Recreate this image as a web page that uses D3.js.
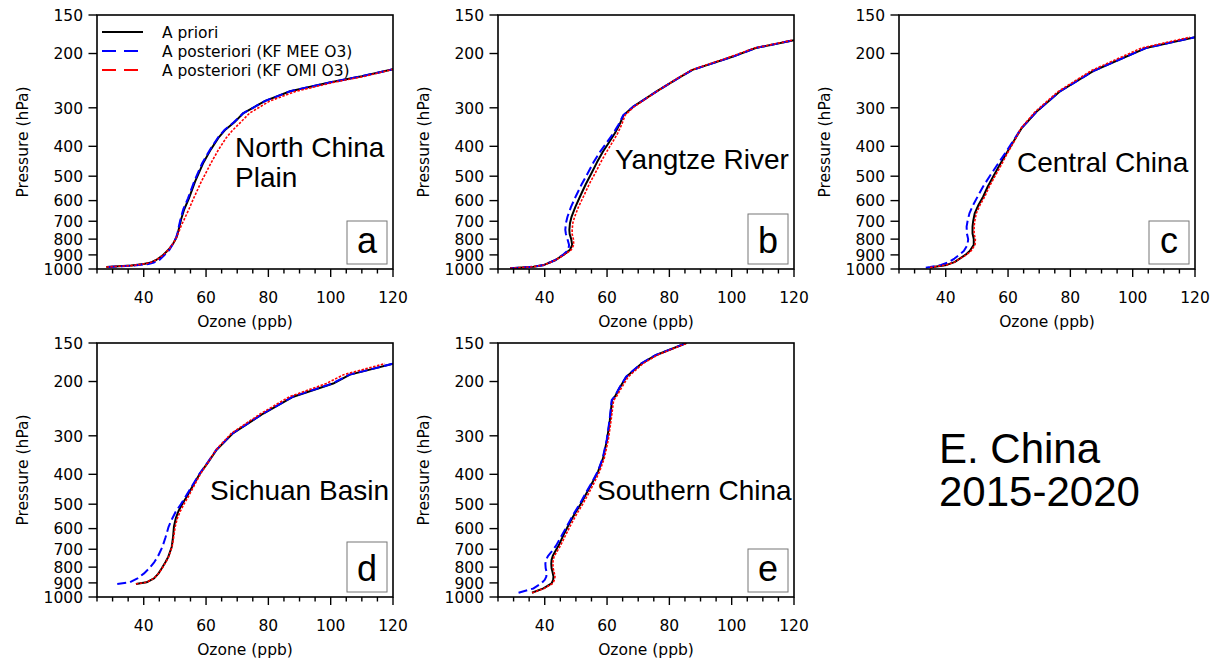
<!DOCTYPE html>
<html><head><meta charset="utf-8">
<script src="https://cdn.jsdelivr.net/npm/d3@7"></script>
<style>
body{margin:0;background:#fff;}
svg{display:block;}
</style></head>
<body><svg id="chart" width="1220" height="660"></svg>
<script>
// ---------------- data ----------------
const xTicks = [40, 60, 80, 100, 120];
const yTicks = [150, 200, 300, 400, 500, 600, 700, 800, 900, 1000];
const seriesNames = ["A priori", "A posteriori (KF MEE O3)", "A posteriori (KF OMI O3)"];
const panelLetters = ["a", "b", "c", "d", "e"];
const regionNames = [["North China", "Plain"], ["Yangtze River"], ["Central China"], ["Sichuan Basin"], ["Southern China"]];

// a: North China Plain
const presA   = [985, 980, 975, 963, 955, 935, 905, 865, 825, 790, 760, 725, 690, 640, 590, 520, 455, 410, 375, 355, 335, 312, 285, 265, 248, 237, 225];
const prioriA = [28, 32, 36, 40, 42, 44, 46, 48, 49.5, 50.5, 51, 51.5, 52, 53, 54.5, 56.5, 59, 61.5, 64, 66, 69, 72, 79, 87, 100, 110, 120];
const meeA    = [28.5, 33, 37, 41.5, 43, 45, 46.5, 48.3, 49.5, 50.4, 50.9, 51.3, 51.8, 52.7, 54.2, 56.2, 58.7, 61.3, 63.8, 65.8, 68.8, 72, 79, 87, 100, 110, 120];
const omiA    = [28, 32, 36, 40, 42, 44, 46, 48, 49.5, 50.5, 51.2, 52, 53, 54.5, 56, 58.5, 61.5, 64, 66.5, 68.5, 71, 74, 80.5, 89, 101, 111, 120];

// b: Yangtze River
const presB   = [995, 983, 970, 937, 900, 867, 835, 800, 770, 747, 710, 677, 630, 583, 530, 489, 450, 416, 390, 363, 340, 317, 298, 264, 240, 226, 205, 192, 181];
const prioriB = [28.9, 36.4, 39.8, 43.3, 46, 48.1, 48.8, 48.5, 48.0, 47.9, 48.1, 48.6, 49.8, 51.3, 53.2, 55, 56.8, 58.7, 60.5, 62.5, 64, 65.3, 68.3, 76.3, 83, 87.4, 100.2, 107.7, 120];
const meeB    = [28.9, 36.4, 39.8, 43.3, 45.8, 47.6, 47.8, 47.3, 46.8, 46.6, 46.8, 47.3, 48.4, 49.9, 51.9, 53.8, 55.7, 57.8, 59.8, 62.0, 63.7, 65.2, 68.3, 76.3, 83, 87.4, 100.2, 107.7, 120];
const omiB    = [28.9, 36.4, 39.8, 43.3, 46.2, 48.5, 49.3, 49.2, 48.8, 48.8, 49.0, 49.6, 50.8, 52.4, 54.3, 56.2, 58, 59.9, 61.6, 63.4, 64.7, 65.8, 68.6, 76.3, 82.8, 87.2, 99.6, 107.3, 119.6];

// c: Central China
const presC   = [990, 985, 970, 950, 925, 900, 874, 835, 800, 767, 729, 700, 660, 620, 583, 540, 502, 460, 421, 385, 350, 309, 266, 227, 192, 177];
const prioriC = [35, 36, 40.3, 42.8, 44.5, 46.3, 47.7, 49, 49, 48.6, 48.6, 48.8, 49.3, 50.5, 52, 53.5, 55.2, 57.3, 59.5, 61.8, 64.3, 69.1, 76.5, 87.7, 104.2, 120];
const meeC    = [33.6, 35, 38.5, 41, 42.8, 44.3, 45.8, 47, 47.2, 46.8, 46.7, 47.0, 47.6, 48.8, 50.2, 52, 54, 56.5, 59.1, 61.6, 64.2, 69.1, 76.5, 87.7, 104.2, 120];
const omiC    = [35, 36, 40.3, 42.8, 44.6, 46.6, 48.1, 49.4, 49.5, 49.1, 49.1, 49.3, 49.8, 51, 52.5, 54, 55.7, 57.8, 59.8, 62, 64.1, 68.7, 76.0, 86.8, 102.8, 118.4];

// d: Sichuan Basin
const presD   = [907, 896, 870, 840, 807, 770, 740, 687, 640, 591, 555, 528, 500, 473, 435, 397, 365, 333, 294, 254, 224, 203, 190, 175];
const prioriD = [37.5, 40.9, 43.3, 44.7, 45.8, 47, 47.9, 49, 49.4, 49.7, 50.3, 51.1, 52.3, 53.8, 55.8, 58.1, 60.7, 63.4, 68.7, 78.4, 88, 100.8, 106.2, 120];
const meeD    = [31.5, 35.5, 38.0, 40.0, 41.8, 43.4, 44.5, 46.0, 47.0, 48.0, 49.2, 50.3, 51.9, 53.4, 55.6, 58.0, 60.6, 63.3, 68.6, 78.3, 87.8, 100.5, 106, 120];
const omiD    = [37.5, 40.9, 43.3, 44.7, 45.9, 47.1, 48.0, 49.1, 49.6, 50.1, 50.8, 51.7, 52.9, 54.3, 56.2, 58.3, 60.7, 63.2, 68.2, 77.6, 86.8, 98.6, 104.2, 117.4];

// e: Southern China
const presE   = [969, 938, 903, 880, 859, 830, 807, 780, 758, 735, 713, 680, 630, 580, 535, 500, 461, 425, 392, 355, 309, 267, 230, 224, 210, 193, 175, 164, 150];
const prioriE = [35.9, 39.6, 42.2, 42.7, 42.8, 42.5, 42.2, 42.1, 42.2, 42.6, 43.3, 44.5, 46, 47.8, 49.7, 51.5, 53.4, 55.3, 57.1, 58.7, 60, 60.9, 61.6, 62.5, 64, 66.2, 71, 75.8, 85.5];
const meeE    = [31.6, 36.4, 38.9, 40.0, 40.5, 40.6, 40.3, 40.2, 40.4, 41.1, 42.2, 43.7, 45.5, 47.5, 49.4, 51.2, 53.1, 55.1, 57, 58.6, 59.9, 60.8, 61.5, 62.4, 63.9, 66.1, 70.9, 75.7, 85.5];
const omiE    = [36, 39.8, 42.6, 43.1, 43.3, 43.0, 42.7, 42.6, 42.7, 43.1, 43.9, 45.1, 46.7, 48.5, 50.4, 52.2, 54.1, 55.9, 57.6, 59.1, 60.4, 61.3, 62.1, 63, 64.6, 66.8, 71.5, 76.2, 85.8];

const panelData = [
  {pres: presA, series: [prioriA, meeA, omiA]},
  {pres: presB, series: [prioriB, meeB, omiB]},
  {pres: presC, series: [prioriC, meeC, omiC]},
  {pres: presD, series: [prioriD, meeD, omiD]},
  {pres: presE, series: [prioriE, meeE, omiE]}
];

// ---------------- layout / style ----------------
const W = 296, H = 254;
const origins = [[97, 15], [498, 15], [899, 15], [97, 343], [498, 343]];
const regionPos = [[138, 142, 30], [117, 154, 0], [118, 157, 0], [113, 157, 0], [99, 157, 0]];
const colors = ["#000000", "#0000ff", "#ff0000"];
const dashes = [null, "9,4", "2.5,1.5"];
const widths = [2, 2, 1.6];
const legendDash = [null, "14,8", "14,8"];
const tallLetters = {b: true, d: true};
const FONT = "'Liberation Sans',Arial,Helvetica,sans-serif";
const NFONT = "'DejaVu Sans',Verdana,sans-serif";

const svg = d3.select("#chart");
const defs = svg.append("defs");

const x = d3.scaleLinear().domain([25, 120]).range([0, W]);
const y = d3.scaleLog().domain([150, 1000]).range([0, H]);

panelData.forEach((pd, i) => {
  const [ox, oy] = origins[i];
  const g = svg.append("g").attr("transform", `translate(${ox},${oy})`);
  const cid = "clip" + i;
  defs.append("clipPath").attr("id", cid).append("rect").attr("width", W).attr("height", H);

  // lines
  const lg = g.append("g").attr("clip-path", `url(#${cid})`);
  pd.series.forEach((vals, s) => {
    const pts = pd.pres.map((p, k) => [vals[k], p]);
    const line = d3.line().x(d => x(d[0])).y(d => y(d[1]));
    lg.append("path").attr("d", line(pts))
      .attr("fill", "none").attr("stroke", colors[s])
      .attr("stroke-width", widths[s])
      .attr("stroke-dasharray", dashes[s])
      .attr("stroke-linejoin", "round");
  });

  // frame
  g.append("rect").attr("width", W).attr("height", H)
    .attr("fill", "none").attr("stroke", "#000").attr("stroke-width", 1.6);

  // x axis
  const xa = g.append("g").attr("transform", `translate(0,${H})`);
  const minor = d3.range(25, 121, 5);
  xa.selectAll("line").data(minor).join("line")
    .attr("x1", d => x(d)).attr("x2", d => x(d))
    .attr("y1", 0).attr("y2", d => xTicks.includes(d) ? 8 : 4.5)
    .attr("stroke", "#000").attr("stroke-width", 1.4);
  xa.selectAll("text").data(xTicks).join("text")
    .attr("x", d => x(d)).attr("y", 33.5)
    .attr("text-anchor", "middle").attr("font-size", 15.5).attr("font-family", NFONT)
    .text(d => d);
  g.append("text").attr("x", W / 2).attr("y", H + 57.5)
    .attr("text-anchor", "middle").attr("font-size", 15.5).attr("font-family", NFONT)
    .text("Ozone (ppb)");

  // y axis
  const ya = g.append("g");
  ya.selectAll("line").data(yTicks).join("line")
    .attr("x1", -8.5).attr("x2", 0)
    .attr("y1", d => y(d)).attr("y2", d => y(d))
    .attr("stroke", "#000").attr("stroke-width", 1.4);
  ya.selectAll("text").data(yTicks).join("text")
    .attr("x", -14).attr("y", d => y(d) + 5.7)
    .attr("text-anchor", "end").attr("font-size", 15.5).attr("font-family", NFONT)
    .text(d => d);
  g.append("text")
    .attr("transform", `translate(-69.5,${H / 2}) rotate(-90)`)
    .attr("text-anchor", "middle").attr("font-size", 15.5).attr("font-family", NFONT)
    .text("Pressure (hPa)");

  // region label
  const [rx, ry, rdy] = regionPos[i];
  regionNames[i].forEach((t, k) => {
    g.append("text").attr("x", rx).attr("y", ry + k * rdy)
      .attr("font-size", 28).attr("font-family", FONT).text(t);
  });

  // panel letter box
  const letter = panelLetters[i];
  const bh = tallLetters[letter] ? 50 : 43, bw = 40;
  const bx = W - 6 - bw, by = H - 5 - bh;
  g.append("rect").attr("x", bx).attr("y", by).attr("width", bw).attr("height", bh)
    .attr("fill", "#fff").attr("stroke", "#777").attr("stroke-width", 1);
  g.append("text").attr("x", bx + bw / 2).attr("y", by + bh - 11)
    .attr("text-anchor", "middle").attr("font-size", 36).attr("font-family", FONT)
    .text(letter);

  // legend (panel a only)
  if (i === 0) {
    seriesNames.forEach((name, s) => {
      const ly = 17 + s * 19;
      g.append("line").attr("x1", 5).attr("x2", 46).attr("y1", ly).attr("y2", ly)
        .attr("stroke", colors[s]).attr("stroke-width", 2)
        .attr("stroke-dasharray", legendDash[s]);
      g.append("text").attr("x", 65).attr("y", ly + 5.5)
        .attr("font-size", 15.5).attr("font-family", NFONT).text(name);
    });
  }
});

// big title text
const tg = svg.append("g");
["E. China", "2015-2020"].forEach((t, k) => {
  tg.append("text").attr("x", 939).attr("y", 463 + k * 43)
    .attr("font-size", 42).attr("font-family", FONT).text(t);
});
</script></body></html>
